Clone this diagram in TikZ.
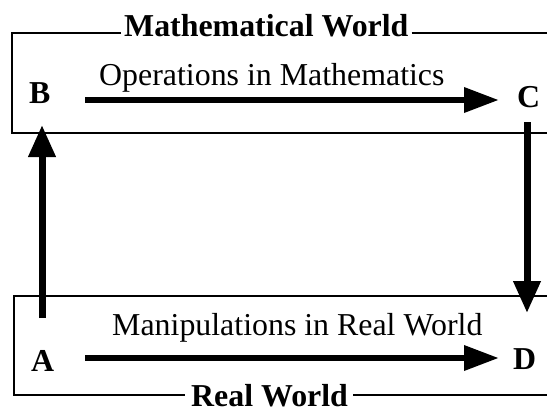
\documentclass[tikz,border=0pt]{standalone}
\usepackage{fontspec}
\setmainfont{Liberation Serif}
\usetikzlibrary{arrows.meta}
\begin{document}
\begin{tikzpicture}[x=1bp,y=-1bp,
  lbl/.style={inner sep=0pt, anchor=base west, font=\fontsize{32}{38}\selectfont\bfseries},
  txt/.style={inner sep=0pt, anchor=base west, font=\fontsize{32}{38}\selectfont},
  frame/.style={line width=1.2bp},
  harrow/.style={line width=6.5bp, -{Triangle[length=35bp,width=24bp]}},
  varrow/.style={line width=7bp, -{Triangle[length=32bp,width=26bp]}}]
\useasboundingbox (0,0) rectangle (547,415);
% labels
\node[lbl] (title) at (124,36) {Mathematical World};
\node[lbl] (rw) at (191,406) {Real World};
\node[txt] (ops) at (99,85) {Operations in Mathematics};
\node[txt] (man) at (112,335) {Manipulations in Real World};
\node[lbl] (B) at (29,103) {B};
\node[lbl] (C) at (517,107) {C};
\node[lbl] (A) at (31,371) {A};
\node[lbl] (D) at (513,369) {D};
% frames
\draw[frame] ([xshift=-3bp]title.west |- 0,33) -- (12,33) -- (12,133) -- (547,133);
\draw[frame] ([xshift=3bp]title.east |- 0,33) -- (547,33);
\draw[frame] (547,296) -- (14,296) -- (14,395) -- ([xshift=-6bp]rw.west |- 0,395);
\draw[frame] ([xshift=5bp]rw.east |- 0,395) -- (547,395);
% arrow endpoints
\coordinate (bs) at (85,100);
\coordinate (ce) at (499,100);
\coordinate (as) at (85,358);
\coordinate (de) at (499,358);
\coordinate (au) at (42,318);
\coordinate (bd) at (42,125);
\coordinate (cd) at (527,122);
\coordinate (du) at (527,313);
% arrows
\draw[harrow] (bs) -- (ce);
\draw[harrow] (as) -- (de);
\draw[varrow] (au) -- (bd);
\draw[varrow] (cd) -- (du);
\end{tikzpicture}
\end{document}
